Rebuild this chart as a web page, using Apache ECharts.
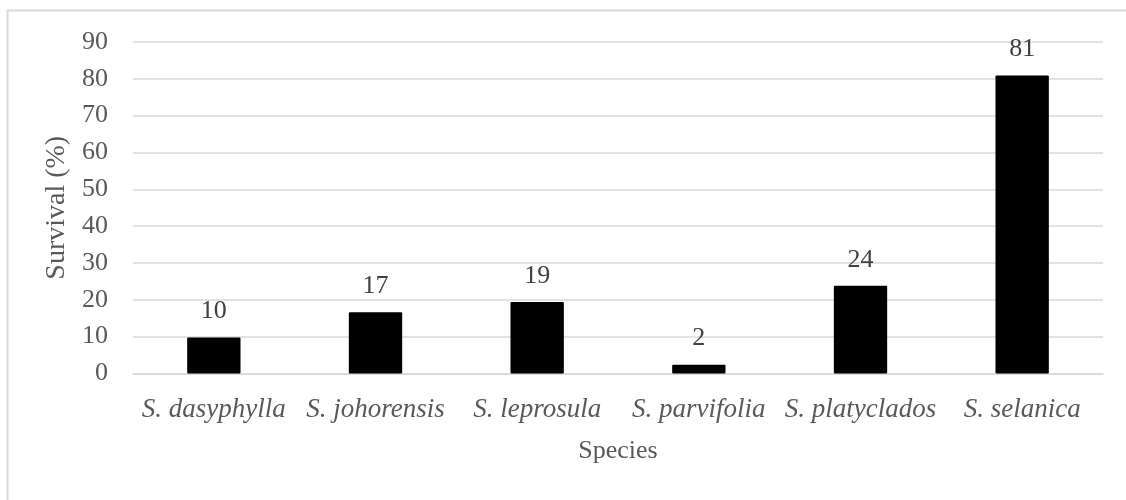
<!DOCTYPE html>
<html>
<head>
<meta charset="utf-8">
<script src="https://cdn.jsdelivr.net/npm/echarts@6/dist/echarts.min.js"></script>
<style>
  html, body { margin: 0; padding: 0; background: #fff; }
  #chart { width: 1126px; height: 500px; }
</style>
</head>
<body>
<div id="chart"></div>
<script>
const species = [ 'S. dasyphylla', 'S. johorensis', 'S. leprosula', 'S. parvifolia', 'S. platyclados', 'S. selanica' ];
const survival = [ 9.8, 16.6, 19.4, 2.4, 23.8, 80.9 ];
const yTicks = { min: 0, max: 90, interval: 10 };

const serif = '"Liberation Serif", "Times New Roman", serif';
const textGray = '#595959';
const gridGray = '#d9d9d9';

const chart = echarts.init( document.getElementById( 'chart' ), null, { renderer: 'canvas' } );

chart.setOption( {
	animation: false,
	textStyle: { fontFamily: serif },
	graphic: [ {
		type: 'rect',
		shape: { x: 7.5, y: 10.5, width: 1130, height: 520 },
		style: { fill: 'none', stroke: '#d9d9d9', lineWidth: 2 },
		silent: true
	} ],
	grid: { left: 133, right: 23, top: 42, bottom: 126.5 },
	xAxis: {
		type: 'category',
		data: species,
		name: 'Species',
		nameLocation: 'middle',
		nameGap: 65,
		nameTextStyle: { fontFamily: serif, fontSize: 26, color: textGray },
		axisTick: { show: false },
		axisLine: { lineStyle: { color: gridGray, width: 1.5 } },
		axisLabel: {
			fontFamily: serif,
			fontStyle: 'italic',
			fontSize: 27,
			color: textGray,
			margin: 23,
			interval: 0
		}
	},
	yAxis: {
		type: 'value',
		min: yTicks.min,
		max: yTicks.max,
		interval: yTicks.interval,
		name: 'Survival (%)',
		nameLocation: 'middle',
		nameGap: 58,
		nameTextStyle: { fontFamily: serif, fontSize: 28, color: textGray },
		axisLine: { show: false },
		axisTick: { show: false },
		splitLine: { lineStyle: { color: gridGray, width: 1.5 } },
		axisLabel: { fontFamily: serif, fontSize: 26, color: textGray, margin: 25 }
	},
	series: [ {
		type: 'bar',
		data: survival,
		barWidth: '33%',
		itemStyle: { color: '#000', borderRadius: 1 },
		label: {
			show: true,
			position: 'top',
			distance: 13,
			fontFamily: serif,
			fontSize: 26,
			color: '#404040',
			formatter: ( p ) => Math.round( p.value )
		}
	} ]
} );
</script>
</body>
</html>
